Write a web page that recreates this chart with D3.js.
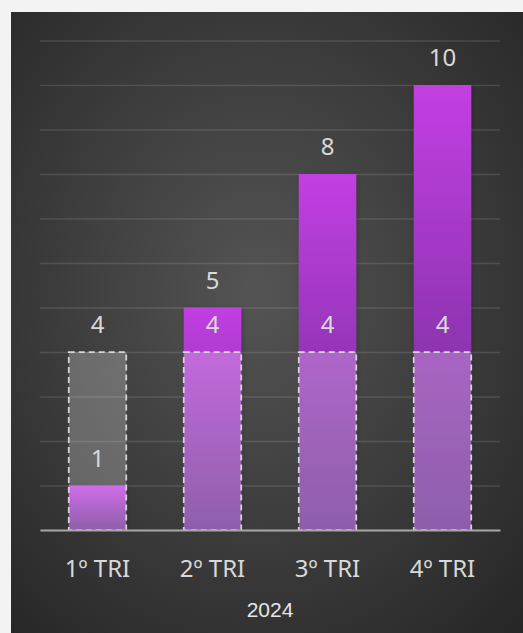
<!DOCTYPE html>
<html>
<head>
<meta charset="utf-8">
<script src="https://cdn.jsdelivr.net/npm/d3@7"></script>
<style>
  body { margin: 0; background: #f3f3f3; }
  svg { display: block; }
</style>
</head>
<body>
<div id="chart"></div>
<script>
// data
var categories = ["1º TRI", "2º TRI", "3º TRI", "4º TRI"];
var realizado = [1, 5, 8, 10];
var meta = [4, 4, 4, 4];
var axisTitle = "2024";

var W = 523, H = 633;
var panel = {x: 11, y: 12};
var margin = {top: 40.5, left: 40, right: 23, bottom: 103};
var width = W - margin.left - margin.right,
    height = H - margin.top - margin.bottom;

var svg = d3.select("#chart")
  .append("svg")
    .attr("width", W)
    .attr("height", H);

var defs = svg.append("defs");

var bg = defs.append("radialGradient")
    .attr("id", "bg")
    .attr("cx", "0.48").attr("cy", "0.45").attr("r", "0.75");
bg.append("stop").attr("offset", "0").attr("stop-color", "#545454");
bg.append("stop").attr("offset", "1").attr("stop-color", "#262626");

var purple = defs.append("linearGradient")
    .attr("id", "purple")
    .attr("x1", 0).attr("y1", 0).attr("x2", 0).attr("y2", 1);
purple.append("stop").attr("offset", "0").attr("stop-color", "#c23fe2");
purple.append("stop").attr("offset", "1").attr("stop-color", "#6a2c90");

var shadow = defs.append("filter").attr("id", "shadow")
    .attr("x", "-20%").attr("y", "-5%").attr("width", "140%").attr("height", "110%");
shadow.append("feDropShadow")
    .attr("dx", 1).attr("dy", 1).attr("stdDeviation", 2)
    .attr("flood-color", "#000").attr("flood-opacity", 0.25);

// panel
svg.append("rect")
    .attr("x", panel.x).attr("y", panel.y)
    .attr("width", W - panel.x).attr("height", H - panel.y)
    .attr("fill", "url(#bg)");

var g = svg.append("g")
    .attr("transform", "translate(" + margin.left + "," + margin.top + ")");

var x = d3.scaleBand()
    .domain(categories)
    .range([0, width])
    .paddingInner(0.5)
    .paddingOuter(0.25);

var y = d3.scaleLinear()
    .domain([0, 11])
    .range([height, 0]);

// gridlines
g.append("g")
    .call(d3.axisLeft(y).ticks(11).tickSize(-width).tickFormat(""))
    .call(function(a) { a.select(".domain").remove(); })
    .selectAll("line")
      .attr("stroke", "#ffffff")
      .attr("stroke-opacity", 0.12)
      .attr("stroke-width", 1.5);

// realizado bars
g.selectAll(".bar")
  .data(realizado)
  .enter()
  .append("rect")
    .attr("class", "bar")
    .attr("x", function(d, i) { return x(categories[i]); })
    .attr("y", function(d) { return y(d); })
    .attr("width", x.bandwidth())
    .attr("height", function(d) { return y(0) - y(d); })
    .attr("fill", "url(#purple)")
    .attr("filter", "url(#shadow)");

// meta boxes (dashed)
g.selectAll(".meta")
  .data(meta)
  .enter()
  .append("rect")
    .attr("class", "meta")
    .attr("x", function(d, i) { return x(categories[i]); })
    .attr("y", function(d) { return y(d); })
    .attr("width", x.bandwidth())
    .attr("height", function(d) { return y(0) - y(d); })
    .attr("fill", "#ffffff")
    .attr("fill-opacity", 0.24)
    .attr("stroke", "#d6d6d6")
    .attr("stroke-width", 1.75)
    .attr("stroke-dasharray", "6,4");

// baseline + category labels
g.append("g")
    .attr("transform", "translate(0," + height + ")")
    .call(d3.axisBottom(x).tickSize(0).tickPadding(30))
    .call(function(a) {
      a.select(".domain").attr("stroke", "#a6a6a6").attr("stroke-width", 2);
    })
    .selectAll("text")
      .attr("fill", "#d9d9d9")
      .style("font-family", "'Noto Sans', 'Open Sans', sans-serif")
      .style("font-size", "24px");

// value labels
var labelStyle = function(sel) {
  sel.attr("text-anchor", "middle")
    .attr("fill", "#d9d9d9")
    .style("font-family", "'Noto Sans', 'Open Sans', sans-serif")
    .style("font-size", "24px");
};

g.selectAll(".lblMeta")
  .data(meta)
  .enter()
  .append("text")
    .attr("x", function(d, i) { return x(categories[i]) + x.bandwidth() / 2; })
    .attr("y", function(d) { return y(d) - 19; })
    .text(function(d) { return d; })
    .call(labelStyle);

g.selectAll(".lblReal")
  .data(realizado)
  .enter()
  .append("text")
    .attr("x", function(d, i) { return x(categories[i]) + x.bandwidth() / 2; })
    .attr("y", function(d) { return y(d) - 19; })
    .text(function(d) { return d; })
    .call(labelStyle);

// axis title
svg.append("text")
    .attr("x", margin.left + width / 2)
    .attr("y", 617)
    .attr("text-anchor", "middle")
    .attr("fill", "#e6e6e6")
    .style("font-family", "'Liberation Sans', Arial, sans-serif")
    .style("font-size", "21px")
    .text(axisTitle);
</script>
</body>
</html>
